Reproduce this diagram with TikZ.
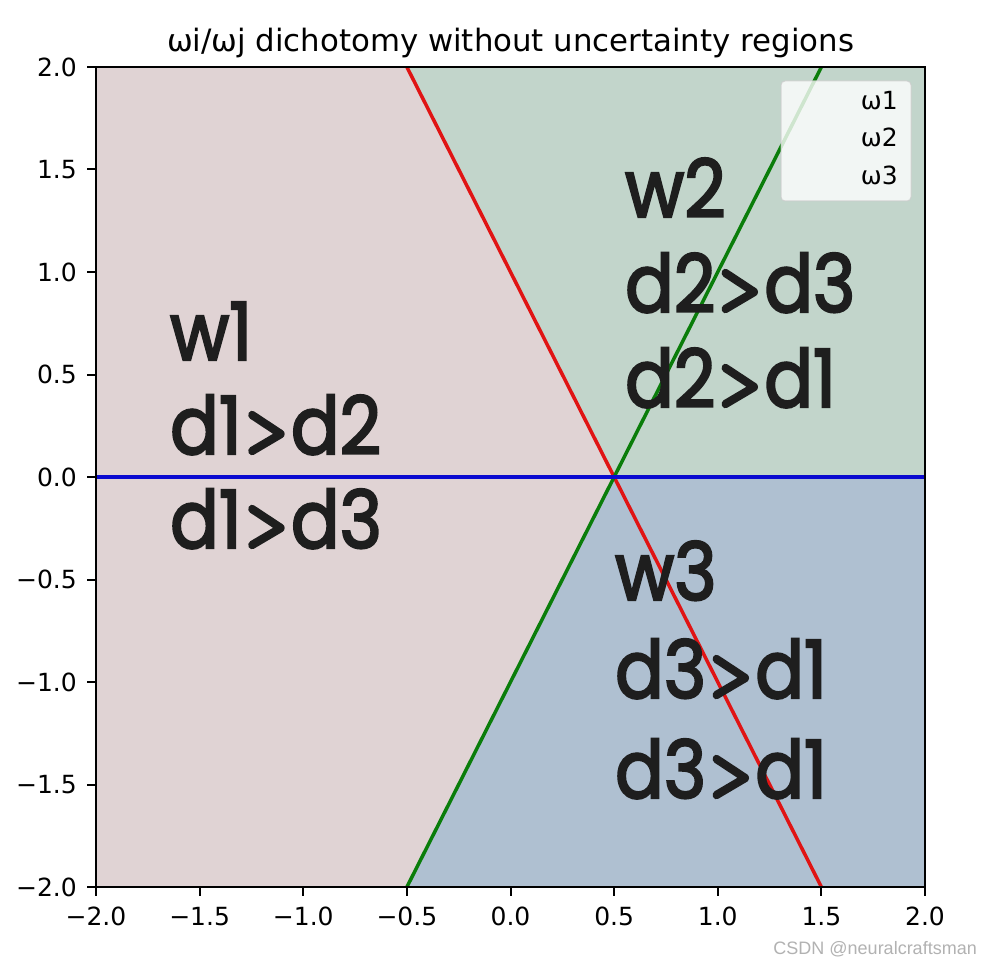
\documentclass[tikz,border=0pt]{standalone}
\usepackage{fontspec}
\setmainfont{DejaVu Sans}
\newfontfamily\handfont{Poppins}[FakeBold=3]
\newfontfamily\wmfont{Liberation Sans}
\definecolor{bgpink}{HTML}{E0D3D4}
\definecolor{bggreen}{HTML}{C2D5CB}
\definecolor{bgblue}{HTML}{AFC0D1}
\definecolor{lred}{HTML}{E01414}
\definecolor{lgreen}{HTML}{0A7D0A}
\definecolor{lblue}{HTML}{0A0AD0}
\definecolor{inkc}{HTML}{1E1E1E}
\newcommand{\hgt}{\hspace{7pt}\tikz[baseline=0pt]{\draw[draw=inkc, line width=8.5pt, line cap=round, line join=round] (0pt,39pt) -- (32pt,20pt) -- (0pt,3pt);}\hspace{7pt}}
\newcommand{\hwt}[1]{\scalebox{0.9}[1]{#1}}
\begin{document}
\begin{tikzpicture}[x=1pt,y=-1pt,
  ticklab/.style={font=\fontsize{25}{25}\selectfont, inner sep=0pt},
  tickmark/.style={line width=2pt, black},
  bline/.style={line width=3.5pt},
  hw/.style={font=\handfont\fontsize{80}{80}\selectfont, text=inkc, inner sep=0pt, anchor=base west},
  legtext/.style={font=\fontsize{25}{25}\selectfont, inner sep=0pt, anchor=base east}]
\useasboundingbox (0,0) rectangle (981,965);
\fill[white] (0,0) rectangle (981,965);
\begin{scope}[shift={(510.5,477)},x=207.25pt,y=205pt]
  \fill[bgpink] (-2,2) -- (-0.5,2) -- (0.5,0) -- (-0.5,-2) -- (-2,-2) -- cycle;
  \fill[bggreen] (-0.5,2) -- (2,2) -- (2,0) -- (0.5,0) -- cycle;
  \fill[bgblue] (0.5,0) -- (2,0) -- (2,-2) -- (-0.5,-2) -- cycle;
  \coordinate (rT) at (-0.5,2); \coordinate (rB) at (1.5,-2);
  \coordinate (gB) at (-0.5,-2); \coordinate (gT) at (1.5,2);
  \coordinate (bL) at (-2,0); \coordinate (bR) at (2,0);
  \draw[bline, lred] (rT) -- (rB);
  \draw[bline, lgreen] (gB) -- (gT);
  \draw[bline, lblue] (bL) -- (bR);
  \draw[line width=2pt] (-2,-2) rectangle (2,2);
  \foreach \v/\l [count=\i] in {-2/−2.0,-1.5/−1.5,-1/−1.0,-0.5/−0.5,0/0.0,0.5/0.5,1/1.0,1.5/1.5,2/2.0}{
    \draw[tickmark] (\v,-2) -- ++(0pt,-8.75pt);
    \node[ticklab, anchor=base, yshift=-38pt] (xl\i) at (\v,-2) {\l};
    \draw[tickmark] (-2,\v) -- ++(-8.75pt,0pt);
    \node[ticklab, anchor=base east, xshift=-19pt, yshift=-9.1pt] (yl\i) at (-2,\v) {\l};
  }
\end{scope}
\node[font=\fontsize{30.8}{30.8}\selectfont, inner sep=0pt, anchor=base] (title) at (510.5,52) {ωi/ωj dichotomy without uncertainty regions};
\draw[fill=white, fill opacity=0.8, draw=black!20, draw opacity=0.8, rounded corners=4pt, line width=1pt] (781,81) rectangle (911,201);
\node[legtext] (lg1) at (898,110) {ω1};
\node[legtext] (lg2) at (898,147) {ω2};
\node[legtext] (lg3) at (898,185) {ω3};
\node[hw] (h11) at (170,360) {\hwt{w1}};
\node[hw] (h12) at (170,454) {\hwt{d1\hgt d2}};
\node[hw] (h13) at (170,548) {\hwt{d1\hgt d3}};
\node[hw] (h21) at (625,217) {\hwt{w2}};
\node[hw] (h22) at (625,312) {\hwt{d2\hgt d3}};
\node[hw] (h23) at (625,407) {\hwt{d2\hgt d1}};
\node[hw] (h31) at (615,600) {\hwt{w3}};
\node[hw] (h32) at (615,698) {\hwt{d3\hgt d1}};
\node[hw] (h33) at (615,798) {\hwt{d3\hgt d1}};
\node[font=\wmfont\fontsize{18}{18}\selectfont, text=black!30, inner sep=0pt, anchor=base east] (wm) at (977,954) {CSDN @neuralcraftsman};
\end{tikzpicture}
\end{document}
